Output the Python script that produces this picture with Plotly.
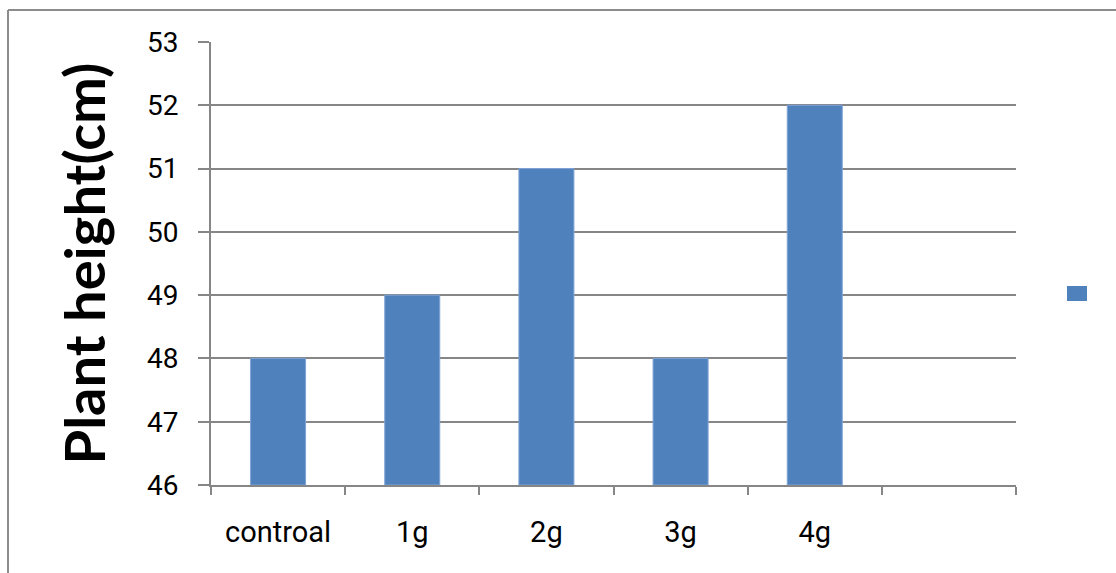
import plotly.graph_objects as go

# Plant height per treatment (the trailing blank category is an empty slot on the axis)
categories = ["controal", "1g", "2g", "3g", "4g", " "]
heights = [48, 49, 51, 48, 52, None]

y_min, y_max = 46, 53
bar_color = "#4F81BD"
grid_color = "#868686"

fig = go.Figure()
fig.add_trace(go.Bar(
    x=categories,
    y=[None if h is None else h - y_min for h in heights],
    base=y_min,
    marker=dict(color=bar_color, line=dict(color="#7FA3D6", width=1)),
    width=0.41,
    showlegend=False,
    hoverinfo="skip",
))

L, T, W, H = 211, 42, 805, 443

fig.update_layout(
    width=1116,
    height=573,
    margin=dict(l=L, r=1116 - L - W, t=T, b=573 - T - H, pad=0),
    paper_bgcolor="white",
    plot_bgcolor="white",
    font=dict(family="Roboto", size=27, color="#000000"),
    xaxis=dict(
        type="category",
        range=[-0.5, 5.5],
        tickson="boundaries",
        ticks="outside",
        ticklen=8,
        tickwidth=2,
        tickcolor=grid_color,
        showline=True,
        linecolor=grid_color,
        linewidth=2,
        showgrid=False,
        ticklabelstandoff=20,
        tickfont=dict(family="Roboto", size=29),
    ),
    yaxis=dict(
        range=[y_min, y_max],
        dtick=1,
        ticks="outside",
        ticklen=11,
        tickwidth=2,
        tickcolor=grid_color,
        showline=True,
        linecolor=grid_color,
        linewidth=2,
        showgrid=True,
        gridcolor=grid_color,
        gridwidth=2,
        zeroline=False,
        ticklabelstandoff=14,
        tickfont=dict(family="Roboto", size=28),
        title=dict(
            text="<b>Plant height(cm)</b>",
            font=dict(family="Lato", size=56, color="#000000"),
            standoff=23,
        ),
    ),
    shapes=[
        # chart frame (left and top edges)
        dict(type="line", xref="paper", yref="paper",
             x0=(8 - L) / W, x1=(8 - L) / W, y0=(T + H - 10) / H, y1=(T + H - 600) / H,
             line=dict(color="#8C8C8C", width=2)),
        dict(type="line", xref="paper", yref="paper",
             x0=(8 - L) / W, x1=(1130 - L) / W, y0=(T + H - 10) / H, y1=(T + H - 10) / H,
             line=dict(color="#8C8C8C", width=2)),
        # legend key
        dict(type="rect", xref="paper", yref="paper",
             x0=(1067 - L) / W, x1=(1087 - L) / W,
             y0=(T + H - 301) / H, y1=(T + H - 286) / H,
             fillcolor=bar_color, line=dict(width=0)),
    ],
)

fig.write_html("out.html")
